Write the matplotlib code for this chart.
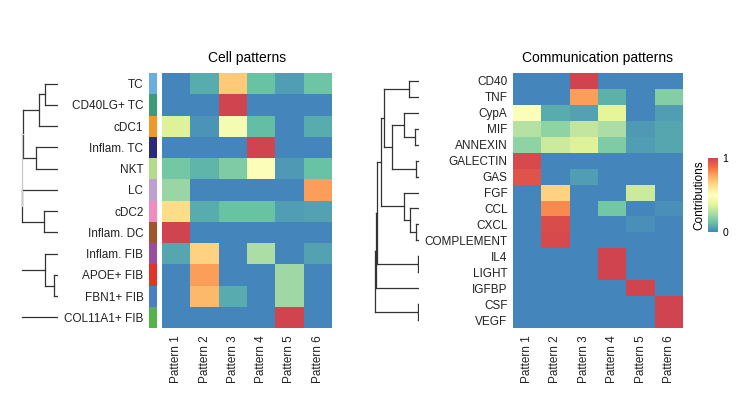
import numpy as np
import matplotlib
matplotlib.use('Agg')
import matplotlib.pyplot as plt
from matplotlib.colors import LinearSegmentedColormap

plt.rcParams['font.family'] = ['Liberation Sans', 'DejaVu Sans']

# cell patterns
cell_types = ['TC', 'CD40LG+ TC', 'cDC1', 'Inflam. TC', 'NKT', 'LC', 'cDC2',
              'Inflam. DC', 'Inflam. FIB', 'APOE+ FIB', 'FBN1+ FIB', 'COL11A1+ FIB']
cell_colors = ['#6aade0', '#3a9c78', '#f0982a', '#2a2a78', '#b4dc8c', '#c0a0d0',
               '#f08cc0', '#a0552d', '#9a4ca0', '#e0352a', '#4a7ec0', '#55b448']
cell_vals = [
    [0.00, 0.08, 0.68, 0.13, 0.05, 0.14],
    [0.00, 0.00, 1.00, 0.00, 0.00, 0.00],
    [0.36, 0.03, 0.45, 0.12, 0.00, 0.08],
    [0.00, 0.00, 0.00, 1.00, 0.00, 0.00],
    [0.15, 0.10, 0.17, 0.48, 0.04, 0.13],
    [0.22, 0.00, 0.00, 0.00, 0.00, 0.78],
    [0.63, 0.08, 0.13, 0.13, 0.05, 0.06],
    [1.00, 0.00, 0.00, 0.00, 0.00, 0.00],
    [0.07, 0.66, 0.00, 0.25, 0.00, 0.06],
    [0.00, 0.78, 0.00, 0.00, 0.23, 0.00],
    [0.00, 0.72, 0.08, 0.00, 0.23, 0.00],
    [0.00, 0.00, 0.00, 0.00, 1.00, 0.00],
]

# communication patterns
pathways = ['CD40', 'TNF', 'CypA', 'MIF', 'ANNEXIN', 'GALECTIN', 'GAS', 'FGF', 'CCL',
            'CXCL', 'COMPLEMENT', 'IL4', 'LIGHT', 'IGFBP', 'CSF', 'VEGF']
comm_vals = [
    [0.00, 0.00, 1.00, 0.00, 0.00, 0.00],
    [0.00, 0.00, 0.78, 0.09, 0.00, 0.18],
    [0.48, 0.08, 0.06, 0.38, 0.00, 0.05],
    [0.27, 0.20, 0.30, 0.25, 0.04, 0.07],
    [0.20, 0.32, 0.36, 0.17, 0.05, 0.07],
    [0.98, 0.00, 0.00, 0.00, 0.00, 0.00],
    [0.95, 0.00, 0.05, 0.00, 0.00, 0.00],
    [0.00, 0.66, 0.00, 0.00, 0.32, 0.00],
    [0.00, 0.82, 0.00, 0.15, 0.00, 0.02],
    [0.00, 0.97, 0.00, 0.00, 0.02, 0.00],
    [0.00, 0.98, 0.00, 0.00, 0.00, 0.00],
    [0.00, 0.00, 0.00, 1.00, 0.00, 0.00],
    [0.00, 0.00, 0.00, 1.00, 0.00, 0.00],
    [0.00, 0.00, 0.00, 0.00, 1.00, 0.00],
    [0.00, 0.00, 0.00, 0.00, 0.00, 1.00],
    [0.00, 0.00, 0.00, 0.00, 0.00, 1.00],
]

patterns = ['Pattern 1', 'Pattern 2', 'Pattern 3', 'Pattern 4', 'Pattern 5', 'Pattern 6']

# dendrogram merges: (node a, node b, height); new nodes numbered after leaves
cell_merges = [(0, 1, 40), (12, 2, 57), (3, 4, 65), (13, 14, 105), (6, 7, 43),
               (5, 16, 108), (15, 17, 108.5), (9, 10, 12), (8, 19, 40)]
cell_light = [6]          # merge index drawn light grey
cell_stubs = [(20, 108), (11, 108)]

comm_merges = [(0, 1, 30), (3, 4, 13), (2, 17, 45), (5, 6, 8), (18, 19, 80),
               (16, 20, 105), (9, 10, 8), (8, 22, 26), (7, 23, 45), (21, 24, 113),
               (11, 12, 3), (14, 15, 3), (25, 26, 126), (28, 13, 130), (29, 27, 133)]

cmap = LinearSegmentedColormap.from_list('spec', ['#4486BC', '#66C2A5', '#ABDDA4', '#E6F598', '#FFFFBF',
                                                  '#FEE08B', '#FDAE61', '#F46D43', '#D0444F'])

W, H = 750, 396
fig = plt.figure(figsize=(7.5, 3.96), dpi=100)


def box(x0, y0, x1, y1):
    # pixel box (top-left origin) -> figure fraction
    return [x0 / W, 1 - y1 / H, (x1 - x0) / W, (y1 - y0) / H]


def dendro(ax, merges, n, stubs=(), light=(), hmax=120):
    ypos = {i: float(i) for i in range(n)}
    hgt = {i: 0.0 for i in range(n)}
    k = n
    for m, (a, b, h) in enumerate(merges):
        c = '#c8c8c8' if m in light else '#333333'
        ax.plot([hgt[a], h], [ypos[a], ypos[a]], color=c, lw=0.9)
        ax.plot([hgt[b], h], [ypos[b], ypos[b]], color=c, lw=0.9)
        ax.plot([h, h], [ypos[a], ypos[b]], color=c, lw=0.9)
        ypos[k] = (ypos[a] + ypos[b]) / 2
        hgt[k] = h
        k += 1
    for node, h in stubs:
        ax.plot([hgt[node], h], [ypos[node], ypos[node]], color='#333333', lw=0.9)
    ax.set_xlim(hmax, 0)
    ax.set_ylim(n - 0.5, -0.5)
    ax.axis('off')


def heat(ax, vals, ylabels=None):
    v = np.array(vals)
    ax.pcolormesh(v, cmap=cmap, vmin=0, vmax=1)
    ax.set_xlim(0, v.shape[1])
    ax.set_ylim(v.shape[0], 0)
    ax.set_xticks(np.arange(v.shape[1]) + 0.5)
    ax.set_xticklabels(patterns, rotation=90, fontsize=8.5, color='#222222')
    ax.tick_params(length=0, pad=5)
    if ylabels is None:
        ax.set_yticks([])
    else:
        ax.set_yticks(np.arange(v.shape[0]) + 0.5)
        ax.set_yticklabels(ylabels, fontsize=8.5, color='#222222')
    for s in ax.spines.values():
        s.set_visible(False)
    return ax


# left panel
axd1 = fig.add_axes(box(58 - 120 / 3, 73, 58, 328))
dendro(axd1, cell_merges, len(cell_types), cell_stubs, cell_light)

axs = fig.add_axes(box(149, 73, 157, 328))
axs.pcolormesh(np.arange(len(cell_types))[:, None],
               cmap=matplotlib.colors.ListedColormap(cell_colors), vmin=-0.5, vmax=len(cell_types) - 0.5)
axs.set_ylim(len(cell_types), 0)
axs.set_xticks([])
axs.set_yticks(np.arange(len(cell_types)) + 0.5)
axs.set_yticklabels(cell_types, fontsize=8.5, color='#222222')
axs.tick_params(length=0, pad=4)
for s in axs.spines.values():
    s.set_visible(False)

ax1 = fig.add_axes(box(162, 73, 332, 328))
heat(ax1, cell_vals)
ax1.set_title('Cell patterns', fontsize=10, pad=8)

# right panel
axd2 = fig.add_axes(box(419 - 140 / 3, 73, 419, 328))
dendro(axd2, comm_merges, len(pathways), hmax=140)

ax2 = fig.add_axes(box(513, 73, 683, 328))
heat(ax2, comm_vals, pathways)
ax2.tick_params(axis='y', pad=4)
ax2.set_title('Communication patterns', fontsize=10, pad=8)

# colorbar
cax = fig.add_axes(box(708, 158, 718, 232))
sm = plt.cm.ScalarMappable(cmap=cmap, norm=plt.Normalize(0, 1))
cb = fig.colorbar(sm, cax=cax, ticks=[0, 1])
cb.outline.set_visible(False)
cax.tick_params(length=0, labelsize=7.5, pad=3)
cax.yaxis.set_label_position('left')
cb.set_label('Contributions', fontsize=8.5, labelpad=2)

fig.savefig('out.png', dpi=100)
